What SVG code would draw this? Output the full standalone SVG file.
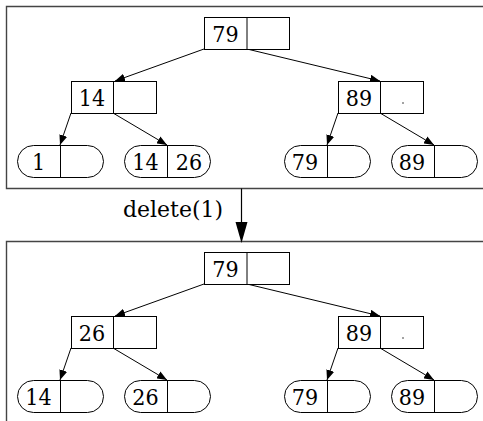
<svg xmlns="http://www.w3.org/2000/svg" width="483" height="421" viewBox="0 0 483 421">
<style>
.cell{fill:#fff;stroke:#000;stroke-width:1}
.div{stroke:#000;stroke-width:1}
.panel{fill:none;stroke:#444;stroke-width:1.4}
.edge{stroke:#000;stroke-width:1;fill:none;marker-end:url(#ah)}
text{font-family:"DejaVu Serif Condensed","DejaVu Serif","Liberation Serif",serif;font-stretch:condensed;font-size:23px;fill:#000;text-anchor:middle}
</style>
<defs>
<marker id="ah" markerUnits="userSpaceOnUse" markerWidth="10" markerHeight="8" viewBox="0 0 10 8" refX="10" refY="4" orient="auto">
<path d="M0,0 L10,4 L0,8 Z" fill="#000"/>
</marker>
</defs>
<rect width="483" height="421" fill="#fff"/>
<g id="panels">
<path class="panel" d="M490,6.5 H6.5 V188.5 H490"/>
<path class="panel" d="M6.5,421 V241.5 H490"/>
</g>
<g id="connectors">
<line class="edge" x1="204" y1="49" x2="115" y2="81"/>
<line class="edge" x1="247" y1="49" x2="380" y2="81"/>
<line class="edge" x1="71" y1="113" x2="60" y2="145"/>
<line class="edge" x1="113" y1="113" x2="167" y2="145"/>
<line class="edge" x1="338" y1="113" x2="327" y2="145"/>
<line class="edge" x1="380" y1="113" x2="434" y2="145"/>
<line class="edge" x1="204" y1="284" x2="115" y2="316"/>
<line class="edge" x1="247" y1="284" x2="380" y2="316"/>
<line class="edge" x1="71" y1="348" x2="60" y2="380"/>
<line class="edge" x1="113" y1="348" x2="167" y2="380"/>
<line class="edge" x1="338" y1="348" x2="327" y2="380"/>
<line class="edge" x1="380" y1="348" x2="434" y2="380"/>
</g>
<g id="transition">
<line x1="241.5" y1="188.5" x2="241.5" y2="224" stroke="#000" stroke-width="1.2"/>
<path d="M235.5,222 L247.5,222 L241.5,243 Z" fill="#000"/>
<text x="173" y="217" textLength="100" lengthAdjust="spacingAndGlyphs">delete(1)</text>
</g>
<g id="t1-root">
<rect class="cell" x="204.5" y="17.5" width="85" height="32"/>
<line class="div" x1="247" y1="17.5" x2="247" y2="49.5"/>
<text x="225.5" y="42">79</text>
</g>
<g id="t1-n14">
<rect class="cell" x="71.5" y="81.5" width="85" height="32"/>
<line class="div" x1="113.5" y1="81.5" x2="113.5" y2="113.5"/>
<text x="92" y="106">14</text>
</g>
<g id="t1-n89">
<rect class="cell" x="338.5" y="81.5" width="85" height="32"/>
<line class="div" x1="380.5" y1="81.5" x2="380.5" y2="113.5"/>
<text x="359" y="106">89</text>
<circle cx="403" cy="103" r="0.7" fill="#000"/>
</g>
<g id="t1-leaf1">
<rect class="cell" x="17.5" y="145.5" width="86" height="32" rx="16" ry="16"/>
<line class="div" x1="60.5" y1="145.5" x2="60.5" y2="177.5"/>
<text x="38.5" y="170">1</text>
</g>
<g id="t1-leaf2">
<rect class="cell" x="124.5" y="145.5" width="86" height="32" rx="16" ry="16"/>
<line class="div" x1="167.5" y1="145.5" x2="167.5" y2="177.5"/>
<text x="145.5" y="170">14</text>
<text x="189" y="170">26</text>
</g>
<g id="t1-leaf3">
<rect class="cell" x="284.5" y="145.5" width="86" height="32" rx="16" ry="16"/>
<line class="div" x1="327.5" y1="145.5" x2="327.5" y2="177.5"/>
<text x="305" y="170">79</text>
</g>
<g id="t1-leaf4">
<rect class="cell" x="391.5" y="145.5" width="86" height="32" rx="16" ry="16"/>
<line class="div" x1="434.5" y1="145.5" x2="434.5" y2="177.5"/>
<text x="412" y="170">89</text>
</g>
<g id="t2-root">
<rect class="cell" x="204.5" y="252.5" width="85" height="32"/>
<line class="div" x1="247" y1="252.5" x2="247" y2="284.5"/>
<text x="225.5" y="277">79</text>
</g>
<g id="t2-n26">
<rect class="cell" x="71.5" y="316.5" width="85" height="32"/>
<line class="div" x1="113.5" y1="316.5" x2="113.5" y2="348.5"/>
<text x="92" y="341">26</text>
</g>
<g id="t2-n89">
<rect class="cell" x="338.5" y="316.5" width="85" height="32"/>
<line class="div" x1="380.5" y1="316.5" x2="380.5" y2="348.5"/>
<text x="359" y="341">89</text>
<circle cx="403" cy="338" r="0.7" fill="#000"/>
</g>
<g id="t2-leaf1">
<rect class="cell" x="17.5" y="380.5" width="86" height="32" rx="16" ry="16"/>
<line class="div" x1="60.5" y1="380.5" x2="60.5" y2="412.5"/>
<text x="38.5" y="405">14</text>
</g>
<g id="t2-leaf2">
<rect class="cell" x="124.5" y="380.5" width="86" height="32" rx="16" ry="16"/>
<line class="div" x1="167.5" y1="380.5" x2="167.5" y2="412.5"/>
<text x="145.5" y="405">26</text>
</g>
<g id="t2-leaf3">
<rect class="cell" x="284.5" y="380.5" width="86" height="32" rx="16" ry="16"/>
<line class="div" x1="327.5" y1="380.5" x2="327.5" y2="412.5"/>
<text x="305" y="405">79</text>
</g>
<g id="t2-leaf4">
<rect class="cell" x="391.5" y="380.5" width="86" height="32" rx="16" ry="16"/>
<line class="div" x1="434.5" y1="380.5" x2="434.5" y2="412.5"/>
<text x="412" y="405">89</text>
</g>
</svg>
